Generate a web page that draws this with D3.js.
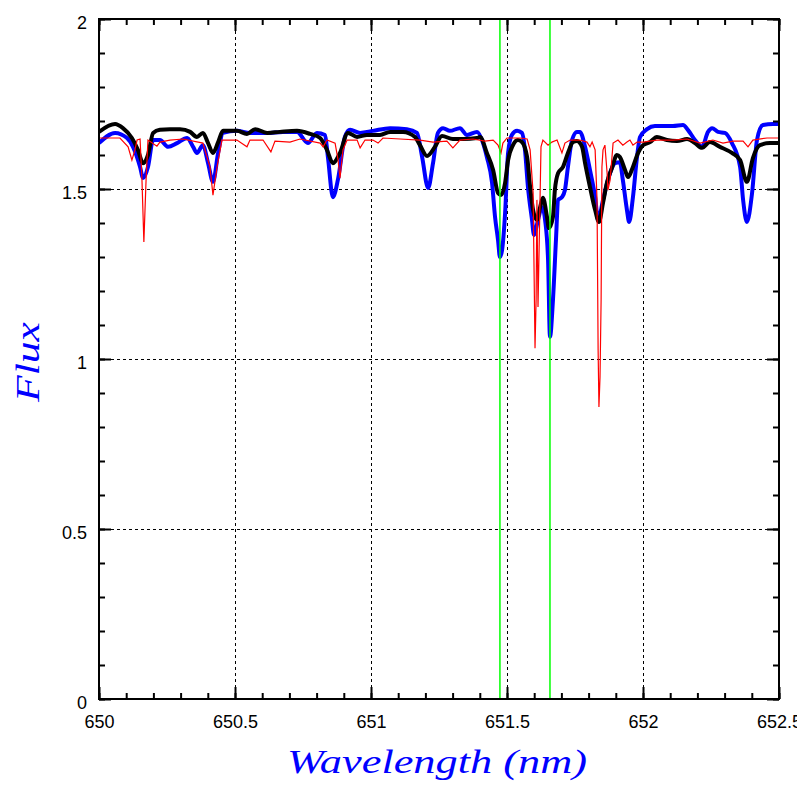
<!DOCTYPE html>
<html>
<head>
<meta charset="utf-8">
<script src="https://cdn.jsdelivr.net/npm/d3@7/dist/d3.min.js"></script>
<style>
    body { margin: 0; background: #fff; }
    .tick text { font-family: "Liberation Sans", Arial, sans-serif; font-size: 18px; fill: #000; }
    .lab { font-family: "Liberation Serif", serif; font-style: italic; font-size: 34px; fill: #0000ff; }
</style>
</head>
<body>
<div id="chart"></div>
<script>
// wavelength (nm) / flux
var blueWl = [650.000, 650.059, 650.103, 650.125, 650.151, 650.162, 650.180, 650.199, 650.224, 650.254,
    650.287, 650.324, 650.346, 650.360, 650.382, 650.401, 650.419, 650.438, 650.456, 650.507,
    650.555, 650.618, 650.676, 650.728, 650.768, 650.801, 650.831, 650.842, 650.860, 650.879,
    650.904, 650.923, 650.960, 651.007, 651.070, 651.132, 651.169, 651.188, 651.210, 651.228,
    651.246, 651.265, 651.290, 651.327, 651.353, 651.390, 651.412, 651.426, 651.445, 651.456,
    651.467, 651.474, 651.482, 651.493, 651.504, 651.518, 651.537, 651.555, 651.566, 651.577,
    651.592, 651.599, 651.614, 651.629, 651.640, 651.651, 651.658, 651.669, 651.680, 651.688,
    651.702, 651.713, 651.724, 651.739, 651.757, 651.768, 651.787, 651.805, 651.824, 651.835,
    651.853, 651.871, 651.897, 651.915, 651.926, 651.941, 651.949, 651.963, 651.978, 651.989,
    652.015, 652.044, 652.110, 652.147, 652.165, 652.191, 652.217, 652.239, 652.254, 652.276,
    652.301, 652.327, 652.357, 652.368, 652.382, 652.401, 652.419, 652.441, 652.478, 652.500];
var blueFlux = [1.635, 1.665, 1.650, 1.624, 1.565, 1.532, 1.565, 1.644, 1.644, 1.624,
    1.635, 1.650, 1.624, 1.606, 1.629, 1.576, 1.521, 1.606, 1.665, 1.671,
    1.665, 1.665, 1.668, 1.668, 1.635, 1.665, 1.659, 1.591, 1.476, 1.530,
    1.653, 1.674, 1.665, 1.671, 1.679, 1.676, 1.665, 1.594, 1.503, 1.576,
    1.665, 1.679, 1.671, 1.679, 1.659, 1.668, 1.635, 1.594, 1.518, 1.418,
    1.350, 1.300, 1.321, 1.429, 1.606, 1.659, 1.671, 1.665, 1.615, 1.506,
    1.409, 1.365, 1.409, 1.447, 1.409, 1.291, 1.065, 1.174, 1.350, 1.468,
    1.476, 1.497, 1.565, 1.644, 1.668, 1.668, 1.624, 1.556, 1.476, 1.409,
    1.468, 1.526, 1.576, 1.579, 1.526, 1.438, 1.403, 1.476, 1.594, 1.653,
    1.676, 1.685, 1.685, 1.688, 1.674, 1.644, 1.624, 1.668, 1.679, 1.668,
    1.665, 1.635, 1.565, 1.468, 1.403, 1.488, 1.644, 1.688, 1.691, 1.691];

var blackWl = [650.000, 650.059, 650.088, 650.121, 650.143, 650.162, 650.180, 650.199, 650.224, 650.261,
    650.298, 650.335, 650.360, 650.382, 650.401, 650.419, 650.438, 650.456, 650.507, 650.544,
    650.574, 650.618, 650.665, 650.728, 650.776, 650.813, 650.838, 650.860, 650.886, 650.915,
    650.949, 650.985, 651.033, 651.070, 651.118, 651.162, 651.180, 651.206, 651.235, 651.261,
    651.301, 651.338, 651.390, 651.401, 651.426, 651.449, 651.467, 651.478, 651.493, 651.504,
    651.522, 651.540, 651.555, 651.574, 651.585, 651.596, 651.610, 651.621, 651.632, 651.647,
    651.654, 651.669, 651.676, 651.688, 651.706, 651.724, 651.743, 651.757, 651.776, 651.787,
    651.805, 651.824, 651.838, 651.853, 651.868, 651.886, 651.904, 651.915, 651.934, 651.945,
    651.963, 651.982, 652.000, 652.026, 652.051, 652.088, 652.125, 652.162, 652.191, 652.217,
    652.246, 652.283, 652.327, 652.357, 652.382, 652.404, 652.430, 652.467, 652.500];
var blackFlux = [1.668, 1.691, 1.679, 1.650, 1.615, 1.576, 1.600, 1.665, 1.674, 1.676,
    1.676, 1.668, 1.653, 1.665, 1.635, 1.606, 1.638, 1.671, 1.671, 1.662,
    1.676, 1.665, 1.668, 1.671, 1.662, 1.650, 1.615, 1.576, 1.606, 1.665,
    1.653, 1.659, 1.659, 1.668, 1.668, 1.653, 1.629, 1.597, 1.624, 1.656,
    1.647, 1.647, 1.650, 1.653, 1.606, 1.556, 1.488, 1.482, 1.518, 1.585,
    1.629, 1.644, 1.638, 1.594, 1.506, 1.438, 1.409, 1.444, 1.474, 1.418,
    1.385, 1.418, 1.497, 1.547, 1.565, 1.606, 1.638, 1.641, 1.624, 1.576,
    1.506, 1.438, 1.403, 1.459, 1.521, 1.562, 1.600, 1.594, 1.556, 1.535,
    1.565, 1.606, 1.629, 1.638, 1.653, 1.644, 1.641, 1.647, 1.635, 1.621,
    1.638, 1.624, 1.606, 1.585, 1.521, 1.591, 1.629, 1.635, 1.635];

var redWl = [650.004, 650.077, 650.107, 650.121, 650.132, 650.140, 650.151, 650.158, 650.165, 650.173,
    650.180, 650.213, 650.224, 650.261, 650.309, 650.382, 650.408, 650.419, 650.434, 650.452,
    650.507, 650.544, 650.555, 650.603, 650.632, 650.647, 650.702, 650.739, 650.813, 650.824,
    650.838, 650.868, 650.879, 650.886, 650.897, 650.912, 650.949, 650.960, 650.978, 651.007,
    651.026, 651.044, 651.107, 651.180, 651.228, 651.279, 651.301, 651.327, 651.375, 651.419,
    651.449, 651.467, 651.478, 651.485, 651.500, 651.548, 651.574, 651.585, 651.596, 651.603,
    651.607, 651.610, 651.614, 651.618, 651.625, 651.632, 651.651, 651.665, 651.684, 651.702,
    651.713, 651.732, 651.768, 651.794, 651.805, 651.813, 651.824, 651.831, 651.835, 651.838,
    651.842, 651.846, 651.849, 651.853, 651.860, 651.868, 651.871, 651.879, 651.886, 651.890,
    651.908, 651.926, 651.941, 651.952, 651.963, 651.978, 652.000, 652.051, 652.110, 652.162,
    652.210, 652.257, 652.294, 652.331, 652.368, 652.386, 652.404, 652.456, 652.500];
var redFlux = [1.650, 1.650, 1.624, 1.585, 1.615, 1.644, 1.647, 1.526, 1.344, 1.526,
    1.644, 1.626, 1.638, 1.644, 1.647, 1.635, 1.565, 1.482, 1.565, 1.644,
    1.644, 1.624, 1.644, 1.644, 1.609, 1.641, 1.638, 1.647, 1.635, 1.624,
    1.644, 1.635, 1.585, 1.532, 1.615, 1.644, 1.644, 1.621, 1.644, 1.644,
    1.635, 1.650, 1.647, 1.644, 1.638, 1.641, 1.621, 1.644, 1.647, 1.641,
    1.644, 1.629, 1.606, 1.635, 1.650, 1.650, 1.647, 1.615, 1.488, 1.032,
    1.174, 1.468, 1.153, 1.321, 1.624, 1.644, 1.629, 1.638, 1.644, 1.606,
    1.635, 1.644, 1.644, 1.638, 1.624, 1.638, 1.615, 1.468, 1.026, 0.859,
    0.947, 1.174, 1.565, 1.615, 1.629, 1.547, 1.497, 1.526, 1.594, 1.635,
    1.644, 1.629, 1.638, 1.644, 1.629, 1.638, 1.638, 1.644, 1.644, 1.647,
    1.635, 1.644, 1.635, 1.641, 1.641, 1.624, 1.644, 1.650, 1.650];

var markerWl = [651.474, 651.658];

var xTicks = [650, 650.5, 651, 651.5, 652, 652.5];
var xTickLabels = ["650", "650.5", "651", "651.5", "652", "652.5"];
var yTicks = [0, 0.5, 1, 1.5, 2];
var yTickLabels = ["0", "0.5", "1", "1.5", "2"];

var W = 797, H = 797;
var pl = 99, pr = 779, pt = 19, pb = 699;

var x = d3.scaleLinear().domain([650, 652.5]).range([pl, pr]);
var y = d3.scaleLinear().domain([0, 2]).range([pb, pt]);

var svg = d3.select("#chart").append("svg")
    .attr("width", W)
    .attr("height", H);

svg.append("defs").append("clipPath").attr("id", "plotclip")
    .append("rect")
    .attr("x", pl).attr("y", pt)
    .attr("width", pr - pl).attr("height", pb - pt);

// dotted grid at major ticks
var grid = svg.append("g").attr("shape-rendering", "crispEdges");
grid.selectAll("line.gx")
    .data(xTicks.slice(1, -1))
    .enter().append("line")
        .attr("class", "gx")
        .attr("x1", function(d) { return Math.round(x(d)) + 0.5; })
        .attr("x2", function(d) { return Math.round(x(d)) + 0.5; })
        .attr("y1", pt).attr("y2", pb);
grid.selectAll("line.gy")
    .data(yTicks.slice(1, -1))
    .enter().append("line")
        .attr("class", "gy")
        .attr("y1", function(d) { return Math.round(y(d)) + 0.5; })
        .attr("y2", function(d) { return Math.round(y(d)) + 0.5; })
        .attr("x1", pl).attr("x2", pr);
grid.selectAll("line")
    .attr("stroke", "#000")
    .attr("stroke-width", 1)
    .attr("stroke-dasharray", "3,3");

// spectra
var plot = svg.append("g").attr("clip-path", "url(#plotclip)");

var smooth = d3.line()
    .x(function(d) { return x(d[0]); })
    .y(function(d) { return y(d[1]); })
    .curve(d3.curveMonotoneX);
var sharp = d3.line()
    .x(function(d) { return x(d[0]); })
    .y(function(d) { return y(d[1]); });

plot.append("path")
    .datum(d3.zip(blueWl, blueFlux))
    .attr("d", smooth)
    .attr("fill", "none")
    .attr("stroke", "#0000ff")
    .attr("stroke-width", 4)
    .attr("stroke-linejoin", "round");

plot.append("path")
    .datum(d3.zip(blackWl, blackFlux))
    .attr("d", smooth)
    .attr("fill", "none")
    .attr("stroke", "#000")
    .attr("stroke-width", 4)
    .attr("stroke-linejoin", "round");

plot.append("path")
    .datum(d3.zip(redWl, redFlux))
    .attr("d", sharp)
    .attr("fill", "none")
    .attr("stroke", "#ff0000")
    .attr("stroke-width", 1.2);

plot.selectAll("line.marker")
    .data(markerWl)
    .enter().append("line")
        .attr("class", "marker")
        .attr("x1", function(d) { return x(d); })
        .attr("x2", function(d) { return x(d); })
        .attr("y1", pt).attr("y2", pb)
        .attr("stroke", "#00ff00")
        .attr("stroke-width", 1.5);

// axes, ticks pointing inward
var xMinor = d3.range(0, 26).map(function(i) { return 650 + i * 0.1; });
var yMinor = d3.range(0, 21).map(function(i) { return i * 0.1; });

function noLabel() { return ""; }

svg.append("g").attr("transform", "translate(0," + pb + ")")
    .call(d3.axisBottom(x).tickValues(xMinor).tickSize(-6).tickSizeOuter(0).tickFormat(noLabel));
svg.append("g").attr("transform", "translate(0," + pb + ")")
    .call(d3.axisBottom(x).tickValues(xTicks).tickSize(-12).tickSizeOuter(0).tickPadding(16)
        .tickFormat(function(d, i) { return xTickLabels[i]; }));
svg.append("g").attr("transform", "translate(0," + pt + ")")
    .call(d3.axisTop(x).tickValues(xMinor).tickSize(-6).tickSizeOuter(0).tickFormat(noLabel));
svg.append("g").attr("transform", "translate(0," + pt + ")")
    .call(d3.axisTop(x).tickValues(xTicks).tickSize(-12).tickSizeOuter(0).tickFormat(noLabel));

svg.append("g").attr("transform", "translate(" + pl + ",0)")
    .call(d3.axisLeft(y).tickValues(yMinor).tickSize(-6).tickSizeOuter(0).tickFormat(noLabel));
var yAx = svg.append("g").attr("transform", "translate(" + pl + ",0)")
    .call(d3.axisLeft(y).tickValues(yTicks).tickSize(-12).tickSizeOuter(0).tickPadding(12)
        .tickFormat(function(d, i) { return yTickLabels[i]; }));
yAx.selectAll(".tick text").attr("dy", "0.55em");
svg.append("g").attr("transform", "translate(" + pr + ",0)")
    .call(d3.axisRight(y).tickValues(yMinor).tickSize(-6).tickSizeOuter(0).tickFormat(noLabel));
svg.append("g").attr("transform", "translate(" + pr + ",0)")
    .call(d3.axisRight(y).tickValues(yTicks).tickSize(-12).tickSizeOuter(0).tickFormat(noLabel));

svg.selectAll(".domain").remove();
svg.selectAll(".tick line").attr("stroke", "#000").attr("stroke-width", 2);

svg.append("rect")
    .attr("x", pl).attr("y", pt)
    .attr("width", pr - pl).attr("height", pb - pt)
    .attr("fill", "none")
    .attr("stroke", "#000")
    .attr("stroke-width", 2);

// axis titles
svg.append("text")
    .attr("class", "lab")
    .attr("x", 437).attr("y", 773)
    .attr("text-anchor", "middle")
    .attr("textLength", 300)
    .attr("lengthAdjust", "spacingAndGlyphs")
    .text("Wavelength (nm)");

svg.append("text")
    .attr("class", "lab")
    .attr("transform", "translate(39,362) rotate(-90)")
    .attr("text-anchor", "middle")
    .attr("textLength", 80)
    .attr("lengthAdjust", "spacingAndGlyphs")
    .text("Flux");
</script>
</body>
</html>
